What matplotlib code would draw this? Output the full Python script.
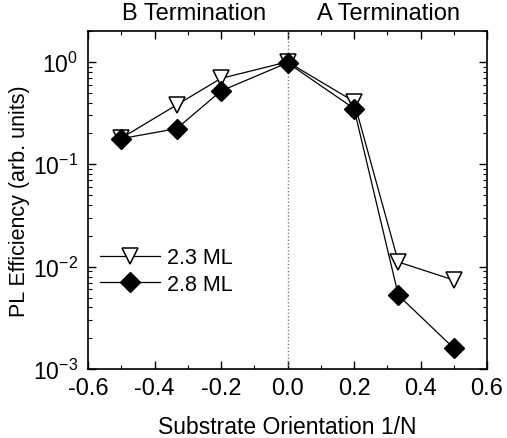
import matplotlib
matplotlib.use("Agg")
import matplotlib.pyplot as plt
from matplotlib.ticker import MultipleLocator, LogLocator, NullFormatter

plt.rcParams['font.family'] = ['Liberation Sans', 'DejaVu Sans']
plt.rcParams['mathtext.fontset'] = 'custom'
plt.rcParams['mathtext.rm'] = 'Liberation Sans'

orientation = [-0.5, -1/3, -0.2, 0.0, 0.2, 1/3, 0.5]
pl_23 = [0.18, 0.38, 0.69, 1.0, 0.41, 0.0111, 0.0074]
pl_28 = [0.178, 0.223, 0.52, 0.98, 0.35, 0.00526, 0.0016]
labels = ['2.3 ML', '2.8 ML']

fig = plt.figure(figsize=(5.07, 4.39), dpi=100)
ax = fig.add_axes([0.1736, 0.157, 0.787, 0.77])

ax.axvline(0, color='gray', ls=(0, (1, 1.5)), lw=1)
ax.plot(orientation, pl_23, color='black', lw=0.9, marker='v', ms=11,
        mfc='white', mec='black', mew=1.1, label=labels[0])
ax.plot(orientation, pl_28, color='black', lw=0.9, marker='D', ms=10,
        mfc='black', mec='black', label=labels[1])

ax.set_yscale('log')
ax.set_xlim(-0.6, 0.6)
ax.set_ylim(1e-3, 2.0)
ax.xaxis.set_major_locator(MultipleLocator(0.2))
ax.xaxis.set_minor_locator(MultipleLocator(0.1))
ax.xaxis.set_major_formatter(plt.FuncFormatter(lambda v, p: f"{v:.1f}".replace('-0.0', '0.0')))
ax.yaxis.set_minor_locator(LogLocator(base=10, subs=range(2, 10)))
ax.yaxis.set_minor_formatter(NullFormatter())

ax.tick_params(which='both', direction='in', top=True, right=True)
ax.tick_params(axis='x', which='major', labelsize=17, pad=6)
ax.tick_params(axis='y', which='major', labelsize=16.5, pad=7)
ax.tick_params(which='major', length=6, width=1)
ax.tick_params(which='minor', length=3, width=0.8)
for s in ax.spines.values():
    s.set_linewidth(1.2)

ax.set_xlabel('Substrate Orientation 1/N', fontsize=16.5, labelpad=11)
ax.set_ylabel('PL Efficiency (arb. units)', fontsize=15.5, labelpad=2)

ax.text(-0.281, 1.02, 'B Termination', transform=ax.get_xaxis_transform(),
        ha='center', va='bottom', fontsize=17)
ax.text(0.305, 1.02, 'A Termination', transform=ax.get_xaxis_transform(),
        ha='center', va='bottom', fontsize=17)

ax.legend(loc='center left', bbox_to_anchor=(0.03, 0.29), frameon=False,
          fontsize=15.5, handlelength=2.8, handletextpad=0.3, labelspacing=0.25,
          borderpad=0, borderaxespad=0)

fig.savefig('out.png', dpi=100)
